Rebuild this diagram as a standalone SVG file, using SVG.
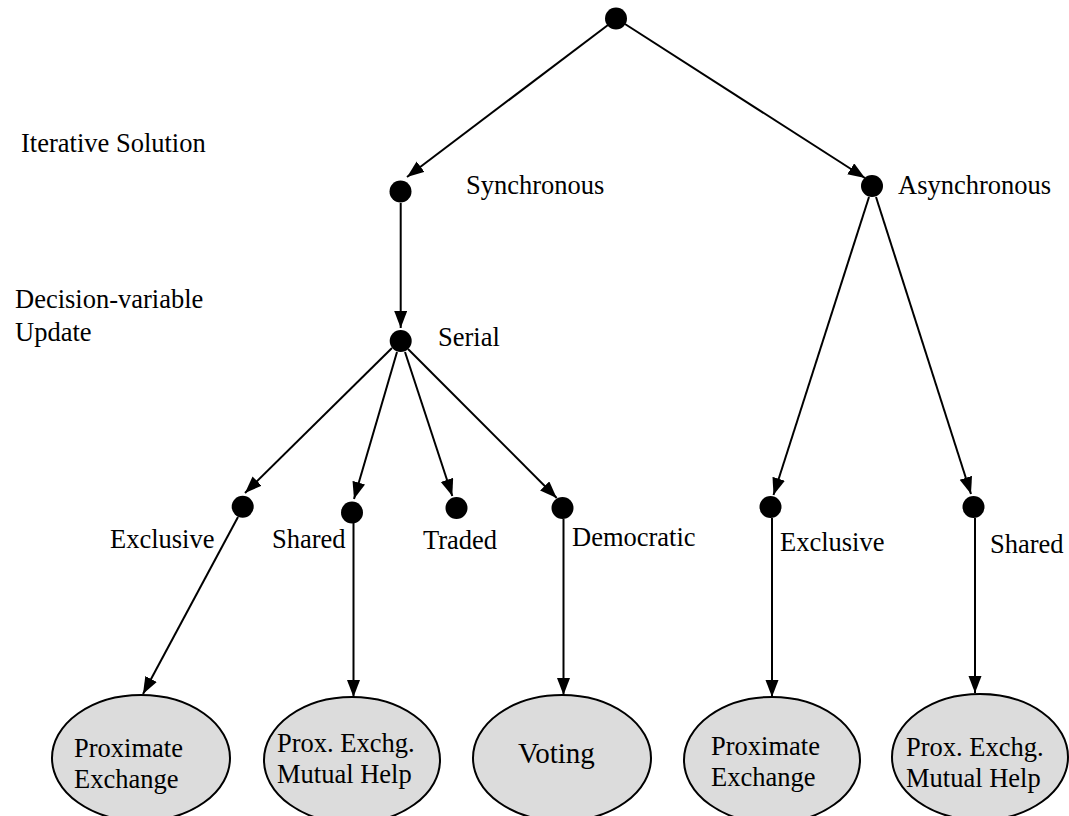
<svg xmlns="http://www.w3.org/2000/svg" width="1069" height="816" viewBox="0 0 1069 816">
  <style>
    .dot { fill: #000; }
    .edge { stroke: #000; stroke-width: 2; fill: none; marker-end: url(#arrow); }
    text { font-family: 'Liberation Serif', 'Times New Roman', Times, 'DejaVu Serif', serif; font-size: 26.5px; fill: #000; }
    .leaf { fill: #dcdcdc; stroke: #000; stroke-width: 2; }
    .big { font-size: 29px; }
  </style>
  <defs>
    <marker id="arrow" markerUnits="userSpaceOnUse" markerWidth="19" markerHeight="14" refX="17" refY="6.5" orient="auto">
      <path d="M0,0 L17,6.5 L0,13 z" fill="#000"/>
    </marker>
  </defs>
  <rect width="1069" height="816" fill="#fff"/>

  <!-- side captions -->
  <g id="captions">
    <text x="21" y="152">Iterative Solution</text>
    <text x="15" y="308">Decision-variable</text>
    <text x="15" y="341">Update</text>
  </g>

  <!-- connectors -->
  <g id="connectors">
    <line class="edge" x1="608" y1="25" x2="407" y2="177"/>
    <line class="edge" x1="625" y1="24" x2="865" y2="178"/>
    <line class="edge" x1="400.7" y1="203" x2="400.7" y2="328"/>
    <line class="edge" x1="392" y1="348" x2="245" y2="493"/>
    <line class="edge" x1="397" y1="352" x2="354" y2="499"/>
    <line class="edge" x1="405" y1="352" x2="452.3" y2="496"/>
    <line class="edge" x1="408" y1="349" x2="556.7" y2="498"/>
    <line class="edge" x1="869" y1="197" x2="773.5" y2="495"/>
    <line class="edge" x1="876" y1="197" x2="971" y2="494"/>
    <line class="edge" x1="238" y1="517" x2="143" y2="694"/>
    <line class="edge" x1="353.5" y1="523" x2="353.5" y2="697"/>
    <line class="edge" x1="563.5" y1="519" x2="563.5" y2="695"/>
    <line class="edge" x1="772" y1="518" x2="772" y2="697"/>
    <line class="edge" x1="975" y1="518" x2="975" y2="693"/>
  </g>

  <!-- branch points -->
  <g id="root"><circle class="dot" cx="616" cy="18.5" r="11"/></g>
  <g id="sync">
    <circle class="dot" cx="400.5" cy="191.5" r="11"/>
    <text x="466" y="194">Synchronous</text>
  </g>
  <g id="async">
    <circle class="dot" cx="872" cy="186" r="11"/>
    <text x="898" y="194">Asynchronous</text>
  </g>
  <g id="serial">
    <circle class="dot" cx="400.7" cy="341" r="11"/>
    <text x="438" y="346">Serial</text>
  </g>
  <g id="sync-exclusive">
    <circle class="dot" cx="242.7" cy="506.7" r="11"/>
    <text x="110" y="548">Exclusive</text>
  </g>
  <g id="sync-shared">
    <circle class="dot" cx="352" cy="512.5" r="11"/>
    <text x="272" y="548">Shared</text>
  </g>
  <g id="traded">
    <circle class="dot" cx="456.5" cy="508" r="11"/>
    <text x="423" y="549">Traded</text>
  </g>
  <g id="democratic">
    <circle class="dot" cx="562.5" cy="508" r="11"/>
    <text x="572" y="546">Democratic</text>
  </g>
  <g id="async-exclusive">
    <circle class="dot" cx="770.5" cy="507" r="11"/>
    <text x="780" y="551">Exclusive</text>
  </g>
  <g id="async-shared">
    <circle class="dot" cx="973.5" cy="507" r="11"/>
    <text x="990" y="553">Shared</text>
  </g>

  <!-- outcomes -->
  <g id="leaf-proximate-1">
    <ellipse class="leaf" cx="141" cy="758" rx="89" ry="63"/>
    <text x="74" y="757">Proximate</text>
    <text x="74" y="788">Exchange</text>
  </g>
  <g id="leaf-mutual-1">
    <ellipse class="leaf" cx="352" cy="760" rx="88" ry="63"/>
    <text x="277" y="752">Prox. Exchg.</text>
    <text x="277" y="783">Mutual Help</text>
  </g>
  <g id="leaf-voting">
    <ellipse class="leaf" cx="562" cy="758" rx="89" ry="63"/>
    <text class="big" x="518" y="763">Voting</text>
  </g>
  <g id="leaf-proximate-2">
    <ellipse class="leaf" cx="772" cy="760" rx="88" ry="63"/>
    <text x="711" y="755">Proximate</text>
    <text x="711" y="786">Exchange</text>
  </g>
  <g id="leaf-mutual-2">
    <ellipse class="leaf" cx="980" cy="757" rx="88" ry="63"/>
    <text x="906" y="756">Prox. Exchg.</text>
    <text x="906" y="787">Mutual Help</text>
  </g>
</svg>
